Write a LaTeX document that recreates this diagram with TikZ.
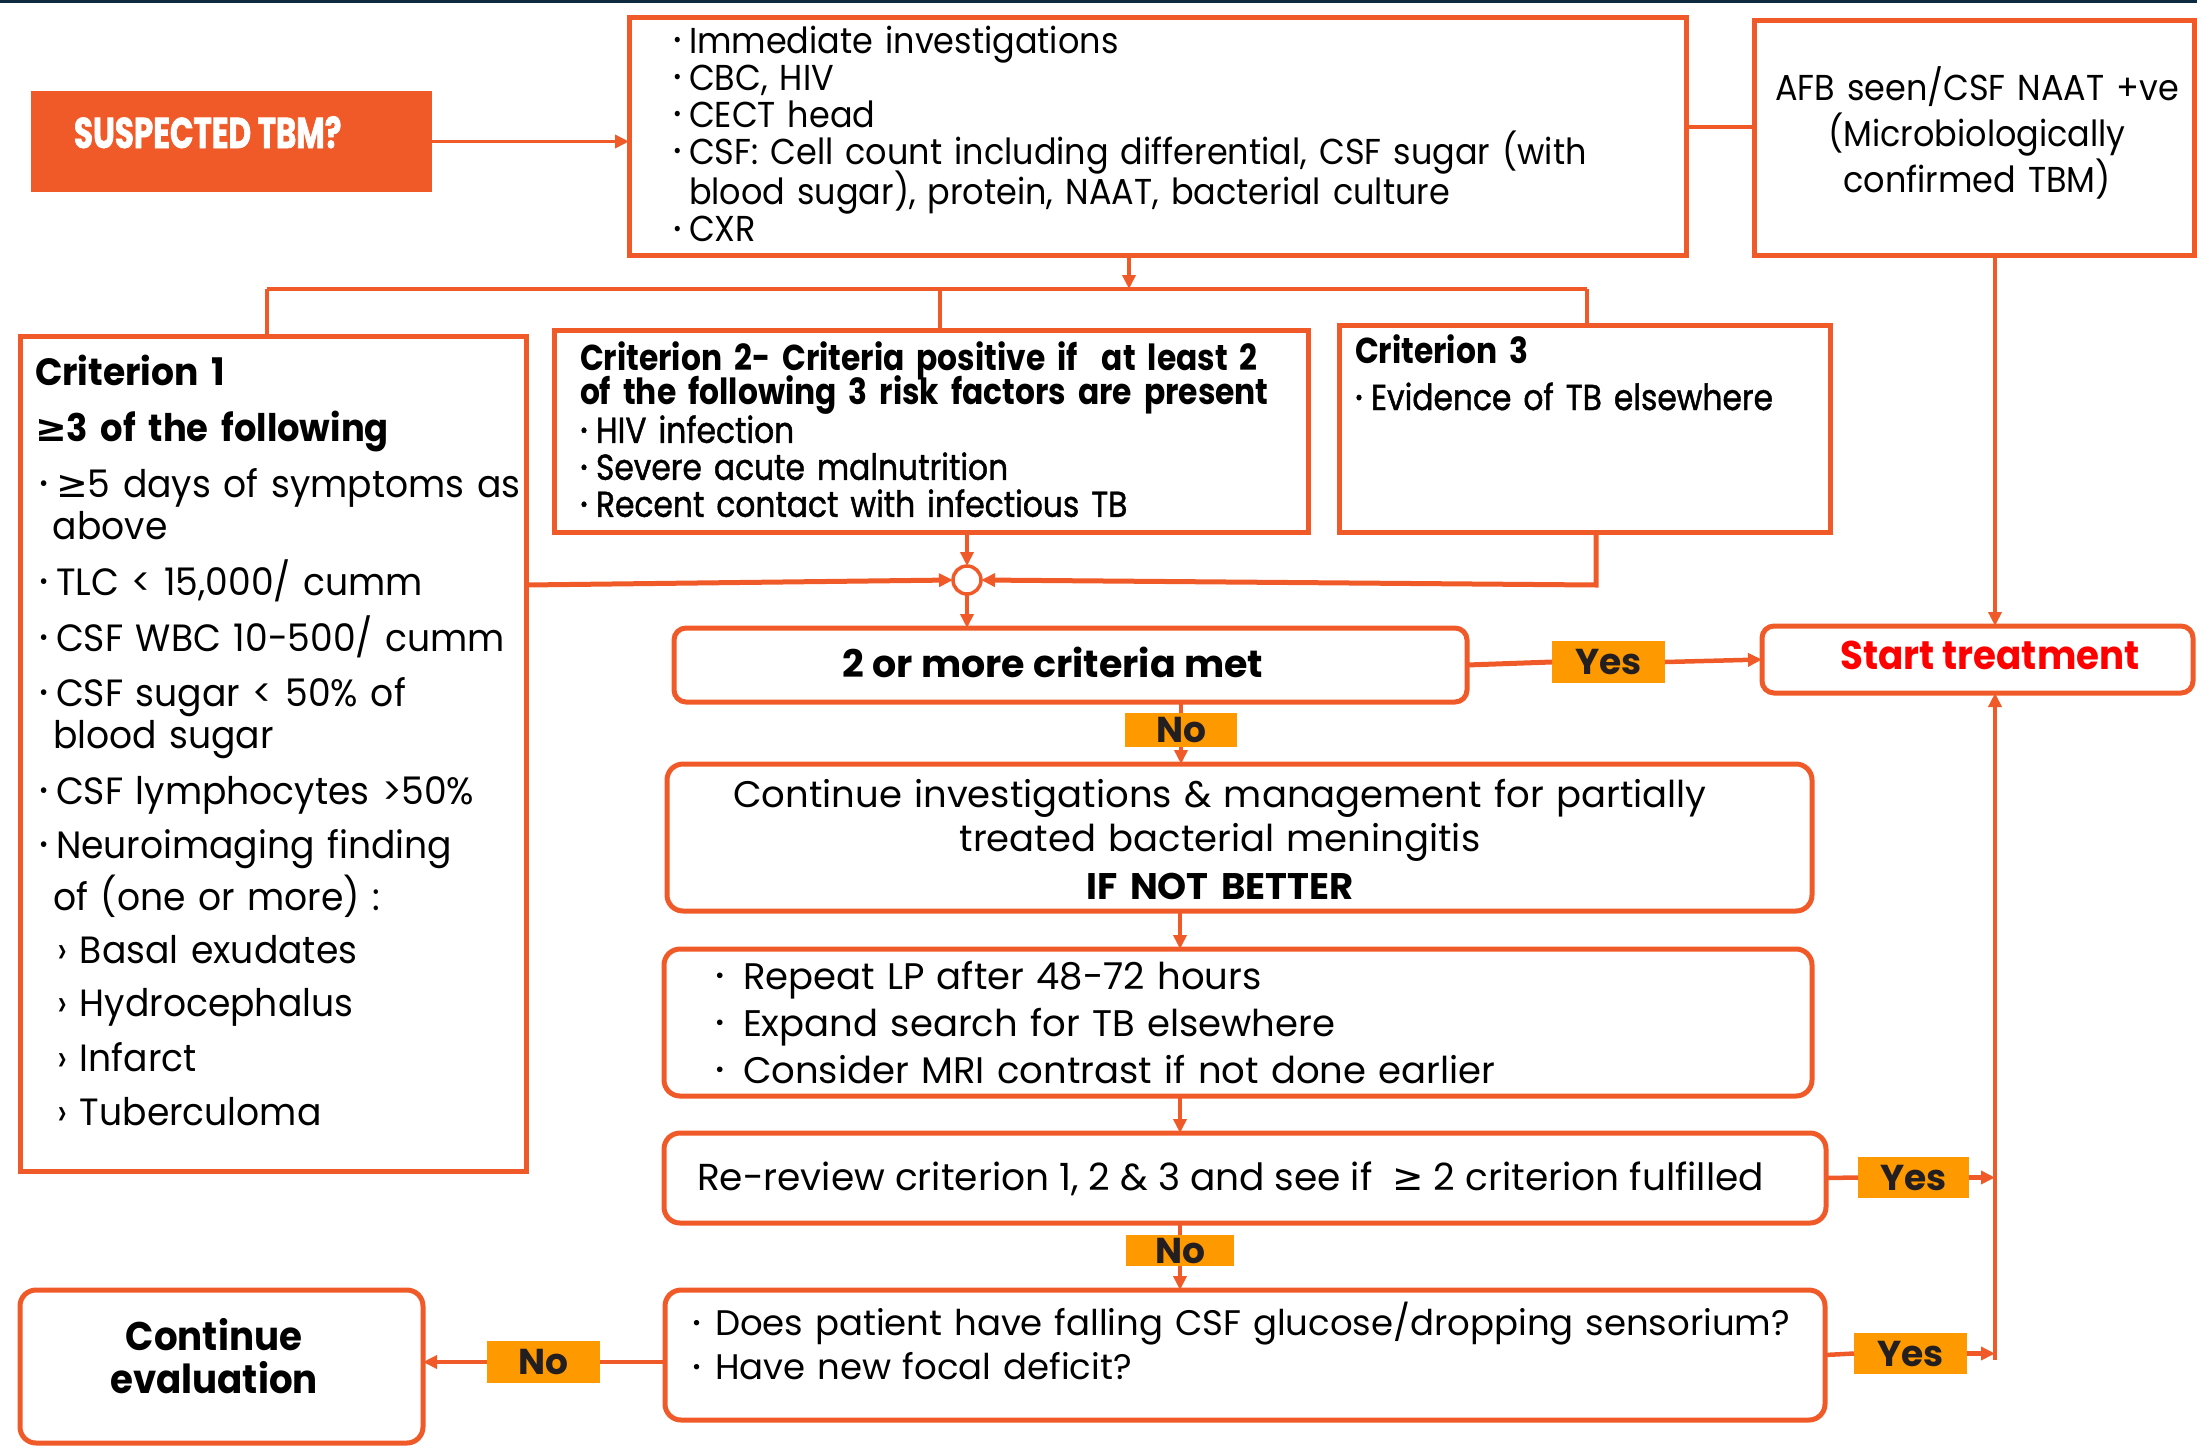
\documentclass[tikz,border=0pt]{standalone}
\usepackage{fontspec}
\usepackage{graphicx}
\setmainfont{Poppins}
\newfontfamily\condfont[FakeStretch=0.87]{Poppins}
\newfontfamily\condmed[FakeStretch=0.87,FakeBold=1.2]{Poppins}
\newfontfamily\condB[FakeStretch=0.93]{Poppins}
\newfontfamily\critfont[FakeStretch=0.95]{Poppins}
\newfontfamily\susfont[FakeStretch=0.72,FakeBold=1.5]{Poppins}
\newfontfamily\symf{DejaVu Sans}
\usetikzlibrary{arrows.meta,calc}
\definecolor{tbmorange}{HTML}{F05A28}
\definecolor{lblfill}{HTML}{FF9900}
\definecolor{lbltext}{HTML}{231F20}
\definecolor{topnavy}{HTML}{0C2B3E}
\definecolor{startred}{HTML}{FF0000}
\newcommand\dotb{\raisebox{0.14em}{\scalebox{0.62}{•}}}
\newcommand\blt[1][16pt]{\makebox[#1][l]{\dotb}}
\newcommand\gesym{{\symf ≥}}
\newcommand\critem{\hspace*{4pt}\makebox[17pt][l]{\dotb}}
\newcommand\critcont{\hspace*{18pt}}
\newcommand\critsub{\hspace*{22pt}\makebox[23pt][l]{›}}
\tikzset{
  box/.style={draw=tbmorange, line width=5pt, inner sep=0pt, outer sep=0pt},
  rbox/.style={box, rounded corners=16pt},
  susbox/.style={fill=tbmorange, inner sep=0pt, outer sep=0pt},
  lbl/.style={fill=lblfill, inner sep=0pt, outer sep=0pt, text=lbltext, font=\bfseries\fontsize{36}{36}\selectfont},
  conn/.style={draw=tbmorange, line width=3.5pt},
  arr/.style={conn, -{Triangle[length=14pt,width=13pt]}},
  txt/.style={inner sep=0pt, outer sep=0pt, anchor=base west, align=left},
  ctxt/.style={inner sep=0pt, outer sep=0pt, anchor=base, align=center},
}
\begin{document}
\begin{tikzpicture}[x=1pt,y=-1pt]
\useasboundingbox (0,0) rectangle (2197,1448);
\fill[topnavy] (0,0) rectangle (2197,3);

% boxes
\node[susbox, minimum width=401pt, minimum height=101pt] (sus) at (231.5,141.5) {};
\node[box, minimum width=1057pt, minimum height=238pt] (inv) at (1157.5,136) {};
\node[box, minimum width=440pt, minimum height=235pt] (afb) at (1974,137.5) {};
\node[box, minimum width=506pt, minimum height=835pt] (crit1) at (273,753.5) {};
\node[box, minimum width=754pt, minimum height=202pt] (crit2) at (931,431) {};
\node[box, minimum width=491pt, minimum height=207pt] (crit3) at (1584.5,428.5) {};
\node[circle, draw=tbmorange, line width=3.5pt, minimum size=28pt, inner sep=0pt, outer sep=0pt, fill=white] (j) at (967,580) {};
\node[rbox, rounded corners=12pt, minimum width=793pt, minimum height=74pt] (met) at (1070.5,665) {};
\node[rbox, rounded corners=12pt, minimum width=431pt, minimum height=67pt] (start) at (1977.5,659.5) {};
\node[rbox, minimum width=1145pt, minimum height=147pt] (cont) at (1239.5,837.5) {};
\node[rbox, minimum width=1148pt, minimum height=147pt] (rep) at (1238,1022.5) {};
\node[rbox, minimum width=1162pt, minimum height=90pt] (rer) at (1245,1178) {};
\node[rbox, minimum width=1160pt, minimum height=130pt] (pat) at (1245,1355) {};
\node[rbox, minimum width=403pt, minimum height=153pt] (ceval) at (221.5,1366.5) {};

% labels
\node[lbl, minimum width=113pt, minimum height=42pt] (yes1) at (1608.5,662) {Yes};
\node[lbl, minimum width=112pt, minimum height=34pt] (no1) at (1181,730) {No};
\node[lbl, minimum width=111pt, minimum height=41pt] (yes2) at (1913.5,1177.5) {Yes};
\node[lbl, minimum width=108pt, minimum height=31pt] (no2) at (1180,1250.5) {No};
\node[lbl, minimum width=113pt, minimum height=41pt] (yes3) at (1910.5,1353.5) {Yes};
\node[lbl, minimum width=113pt, minimum height=42pt] (no3) at (543.5,1362) {No};

% texts
\node[txt, text=white, font=\susfont\bfseries\fontsize{43}{43}\selectfont] (sustxt) at (74,148) {SUSPECTED TBM?};
\node[txt, text width=1000pt, font=\condB\fontsize{36}{37}\selectfont] (invtxt) at (673,53) {\blt Immediate investigations\\ \blt CBC, HIV\\ \blt CECT head\\ \blt CSF: Cell count including differential, CSF sugar (with\\[-4pt] \hspace*{16pt}blood sugar), protein, NAAT, bacterial culture\\ \blt CXR};
\node[ctxt, text width=440pt, font=\condB\fontsize{36}{46}\selectfont] (afbtxt) at (1977,100) {AFB seen/CSF NAAT +ve\\(Microbiologically\\confirmed TBM)};
\node[txt, text width=500pt, font=\critfont\fontsize{38}{42}\selectfont] (c1txt) at (35,385) {%
{\bfseries Criterion 1}\\[14pt]
{\condB\bfseries \gesym 3 of the following}\\[14pt]
\critem\gesym 5 days of symptoms as\\
\critcont above\\[14pt]
\critem TLC < 15,000/ cumm\\[13pt]
\critem CSF WBC 10-500/ cumm\\[13pt]
\critem CSF sugar < 50\% of\\
\critcont blood sugar\\[14pt]
\critem CSF lymphocytes >50\%\\[12pt]
\critem Neuroimaging finding\\[5pt]
\critcont of (one or more) :\\[11pt]
\critsub Basal exudates\\[11pt]
\critsub Hydrocephalus\\[13pt]
\critsub Infarct\\[12pt]
\critsub Tuberculoma};
\node[txt, text width=740pt, font=\condmed\fontsize{36}{37}\selectfont] (c2txt) at (580,370) {{\condfont\bfseries Criterion 2- Criteria positive if\ \ at least 2\\[-5pt] of the following 3 risk factors are present}\\ \blt HIV infection\\ \blt Severe acute malnutrition\\ \blt Recent contact with infectious TB};
\node[txt, text width=470pt, font=\condmed\fontsize{36}{37}\selectfont] (c3txt) at (1355,363) {{\condfont\bfseries Criterion 3}\\[10pt] \blt Evidence of TB elsewhere};
\node[ctxt, font=\bfseries\fontsize{38}{38}\selectfont] (mettxt) at (1053,677) {2 or more criteria met};
\node[ctxt, text=startred, font=\condB\bfseries\fontsize{40}{40}\selectfont] (sttxt) at (1990,669) {Start treatment};
\node[ctxt, text width=1140pt, font=\fontsize{37}{42}\selectfont] (conttxt) at (1220,807) {Continue investigations \& management for partially\\[2pt] treated bacterial meningitis\\[6pt] {\bfseries IF NOT BETTER}};
\node[txt, text width=1100pt, font=\fontsize{37}{47}\selectfont] (reptxt) at (715,989) {\blt[28pt]Repeat LP after 48-72 hours\\ \blt[28pt]Expand search for TB elsewhere\\ \blt[28pt]Consider MRI contrast if not done earlier};
\node[txt, font=\fontsize{37.5}{37.5}\selectfont] (rertxt) at (697,1190) {Re-review criterion 1, 2 \& 3 and see if\ \ \gesym\ 2 criterion fulfilled};
\node[txt, text width=1140pt, font=\fontsize{35.5}{44}\selectfont] (pattxt) at (692,1335) {\blt[23pt]Does patient have falling CSF glucose/dropping sensorium?\\ \blt[23pt]Have new focal deficit?};
\node[ctxt, text width=400pt, font=\condB\bfseries\fontsize{40}{43}\selectfont] (cevtxt) at (214,1350) {Continue\\evaluation};

% connectors
\coordinate (k1) at (0,127);
\coordinate (bar0) at (1129,289);
\coordinate (barL) at (267,289);
\coordinate (barM) at (940,289);
\coordinate (barR) at (1587,289);
\coordinate (c1o) at (526,585);
\coordinate (c3a) at (1596,585);
\coordinate (xm) at (1180,0);
\coordinate (trA) at (1995,1174);
\coordinate (trB) at (1995,1360);

\draw[arr] (sus.east) -- (sus.east -| inv.west);
\draw[conn, line width=4.5pt] (inv.east |- k1) -- (afb.west |- k1);
\draw[arr] (inv.south -| bar0) -- (bar0);
\draw[conn] (barL) -- (barR);
\draw[conn] (barL) -- (barL |- crit1.north);
\draw[conn] (barM) -- (barM |- crit2.north);
\draw[conn] (barR) -- (barR |- crit3.north);
\draw[arr] (crit2.south -| j) -- (j.north);
\draw[arr, line width=5pt] (c1o) -- (j.west);
\draw[arr, line width=5pt] (crit3.south -| c3a) -- (c3a) -- (j.east);
\draw[arr] (j.south) -- (met.north -| j);
\draw[conn, line width=5pt] (met.east) -- (yes1.west);
\draw[arr, line width=4.5pt] (yes1.east) -- (start.west);
\draw[conn] (met.south -| no1) -- (no1.north);
\draw[arr] (no1.south) -- (cont.north -| no1);
\draw[arr] (cont.south -| xm) -- (rep.north -| xm);
\draw[arr] (rep.south -| xm) -- (rer.north -| xm);
\draw[conn] (rer.south -| no2) -- (no2.north);
\draw[arr] (no2.south) -- (pat.north -| no2);
\draw[conn, line width=4.5pt] (rer.east) -- (yes2.west);
\draw[arr, line width=4.5pt] (yes2.east) -- (yes2.east -| trA);
\draw[conn, line width=4.5pt] (pat.east) -- (yes3.west);
\draw[arr, line width=4.5pt] (yes3.east) -- (yes3.east -| trA);
\draw[arr] (trB) -- (start.south -| trB);
\draw[arr] (afb.south -| trB) -- (start.north -| trB);
\draw[conn, line width=4.5pt] (pat.west |- no3.east) -- (no3.east);
\draw[arr, line width=4.5pt] (no3.west) -- (ceval.east |- no3.west);
\end{tikzpicture}
\end{document}
